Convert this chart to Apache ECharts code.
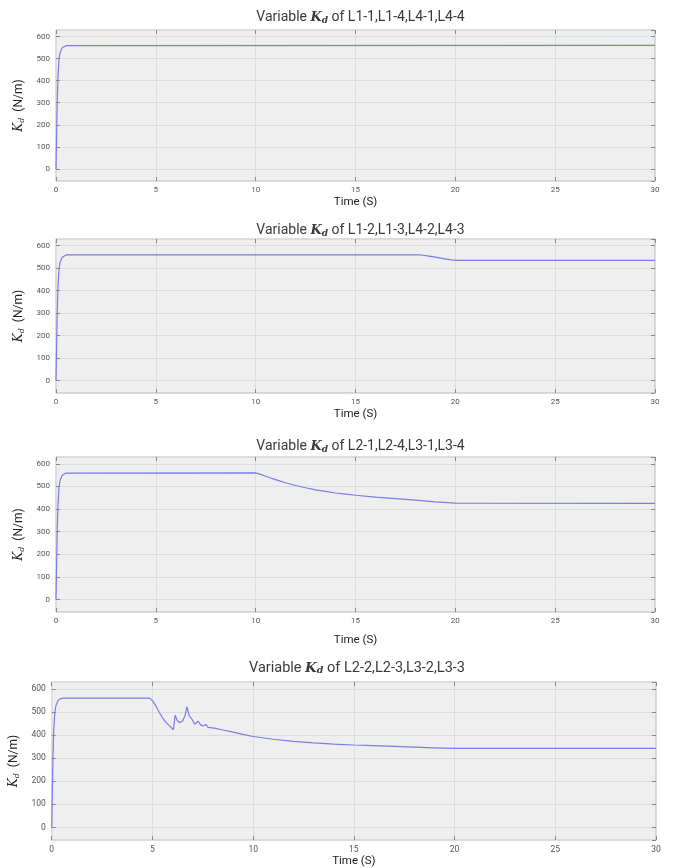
<!DOCTYPE html>
<html>
<head>
<meta charset="utf-8">
<script src="https://cdn.jsdelivr.net/npm/echarts@6/dist/echarts.min.js"></script>
<style>html,body{margin:0;padding:0;background:#fff;}#c{width:678px;height:868px;}</style>
</head>
<body>
<div id="c"></div>
<script>
// ---- data ----
const xTicks = [0, 5, 10, 15, 20, 25, 30];
const yTicks = [0, 100, 200, 300, 400, 500, 600];
const titles = [
  'of L1-1,L1-4,L4-1,L4-4',
  'of L1-2,L1-3,L4-2,L4-3',
  'of L2-1,L2-4,L3-1,L3-4',
  'of L2-2,L2-3,L3-2,L3-3'
];
const riseT = [0, 0.03, 0.06, 0.1, 0.15, 0.2, 0.3, 0.4, 0.5, 0.6];
const riseV = [0, 150, 300, 420, 495, 525, 548, 556, 559, 560];
const t1 = [30];
const v1 = [560];
const t2 = [18.2, 18.6, 19, 19.4, 19.8, 20.1, 30];
const v2 = [560, 555, 549, 543, 537, 535, 535];
const t3 = [10, 10.25, 10.5, 10.75, 11, 11.5, 12, 12.5, 13, 13.5, 14, 14.5, 15, 16, 17, 18, 19, 20, 30];
const v3 = [560, 553, 545, 537, 530, 516, 504, 494, 485, 478, 471, 466, 461, 453, 446, 439, 432, 426, 425];
const t4 = [4.86, 5.0, 5.2, 5.34, 5.5, 5.67, 5.85, 6.04, 6.13, 6.22, 6.33, 6.5, 6.62, 6.71, 6.83, 6.96, 7.1, 7.27, 7.4, 7.53, 7.65, 7.76, 8.06, 8.5, 8.96, 9.5, 10, 11, 12, 13, 14, 15, 16, 17, 18, 19, 20, 30];
const v4 = [560, 549, 522, 498, 475, 455, 440, 423, 486, 465, 454, 461, 485, 523, 483, 469, 447, 460, 443, 440, 446, 433, 430, 422, 414, 403, 394, 382, 373, 366, 361, 357, 354, 351, 348, 345, 342, 342];

const panels = [
  {t: t1, v: v1},
  {t: t2, v: v2},
  {t: t3, v: v3},
  {t: t4, v: v4}
];

// ---- layout ----
const layout = [
  {left: 56, top: 30, width: 599, height: 151, titleY: 5, nameGap: 15, lblSize: 8, yGap: 22, tSize: 14},
  {left: 56, top: 239, width: 599, height: 154, titleY: 218, nameGap: 15, lblSize: 8, yGap: 22, tSize: 14},
  {left: 56, top: 457, width: 599, height: 155, titleY: 434, nameGap: 22, lblSize: 8, yGap: 22, tSize: 14},
  {left: 48, top: 682, width: 608, height: 160, titleY: 655, nameGap: 13, lblSize: 8.5, yGap: 15, tSize: 14.5}
];
const FONT = 'Roboto';
const lineColor = '#7c7ce8';

const grids = [], xAxes = [], yAxes = [], series = [], titleArr = [];
function richTitle(sz) {
  return {
    k: {fontFamily: 'DejaVu Serif', fontStyle: 'italic', fontWeight: 'bold', fontSize: sz - 1, color: '#3a3a3a'},
    d: {fontFamily: 'DejaVu Serif', fontStyle: 'italic', fontWeight: 'bold', fontSize: sz - 5, color: '#3a3a3a', padding: [6, 0, 0, 0]},
    n: {fontFamily: FONT, fontWeight: 'normal', fontSize: sz, color: '#3a3a3a'}
  };
}
const richY = {
  k: {fontFamily: 'DejaVu Serif', fontStyle: 'italic', fontSize: 12, color: '#222'},
  d: {fontFamily: 'DejaVu Serif', fontStyle: 'italic', fontSize: 8, color: '#222', padding: [5, 0, 0, 0]},
  n: {fontFamily: FONT, fontSize: 12, color: '#222'}
};

panels.forEach((p, i) => {
  const L = layout[i];
  grids.push({left: L.left, top: L.top, width: L.width, height: L.height,
    show: true, backgroundColor: '#efefef', borderColor: '#b9b9b9', borderWidth: 1});
  titleArr.push({
    text: '{n|Variable }{k|K}{d|d}{n| ' + titles[i] + '}',
    left: L.left + L.width / 2, top: L.titleY, textAlign: 'center',
    textStyle: {fontWeight: 'normal', rich: richTitle(L.tSize)}
  });
  const xBase = {
    type: 'value', gridIndex: i, min: xTicks[0], max: xTicks[xTicks.length - 1],
    interval: xTicks[1] - xTicks[0], axisLine: {show: false, onZero: false}
  };
  xAxes.push(Object.assign({}, xBase, {
    position: 'bottom',
    name: 'Time (S)', nameLocation: 'middle', nameGap: L.nameGap,
    nameTextStyle: {fontFamily: FONT, fontSize: 11.5, color: '#222'},
    axisTick: {inside: true, length: 4, lineStyle: {color: '#888'}},
    axisLabel: {fontFamily: FONT, fontSize: L.lblSize, color: '#555', margin: 5},
    splitLine: {show: true, lineStyle: {color: '#dcdcdc', width: 1}}
  }));
  xAxes.push(Object.assign({}, xBase, {
    position: 'top',
    axisTick: {inside: true, length: 4, lineStyle: {color: '#888'}},
    axisLabel: {show: false}, splitLine: {show: false}
  }));
  const yBase = {
    type: 'value', gridIndex: i, min: -55, max: 630,
    minInterval: 100, maxInterval: 100, splitNumber: 7, axisLine: {show: false, onZero: false}
  };
  yAxes.push(Object.assign({}, yBase, {
    position: 'left',
    name: '{k|K}{d|d}{n|  (N/m)}', nameLocation: 'middle', nameGap: L.yGap, nameRotate: 90,
    nameTextStyle: {rich: richY},
    axisTick: {inside: true, length: 4, lineStyle: {color: '#888'}},
    axisLabel: {fontFamily: FONT, fontSize: L.lblSize, color: '#555', margin: 6,
      showMinLabel: false, showMaxLabel: false},
    splitLine: {show: true, lineStyle: {color: '#dcdcdc', width: 1}}
  }));
  yAxes.push(Object.assign({}, yBase, {
    position: 'right',
    axisTick: {inside: true, length: 4, lineStyle: {color: '#888'}},
    axisLabel: {show: false}, splitLine: {show: false}
  }));
  const data = riseT.map((t, k) => [t, riseV[k]]).concat(p.t.map((t, k) => [t, p.v[k]]));
  series.push({
    type: 'line', xAxisIndex: 2 * i, yAxisIndex: 2 * i, data: data,
    showSymbol: false, symbol: 'none', smooth: false,
    lineStyle: {color: lineColor, width: 1.2}, animation: false
  });
});

const chart = echarts.init(document.getElementById('c'), null, {renderer: 'canvas'});
chart.setOption({
  backgroundColor: '#ffffff',
  animation: false,
  title: titleArr,
  grid: grids,
  xAxis: xAxes,
  yAxis: yAxes,
  series: series
});
</script>
</body>
</html>
